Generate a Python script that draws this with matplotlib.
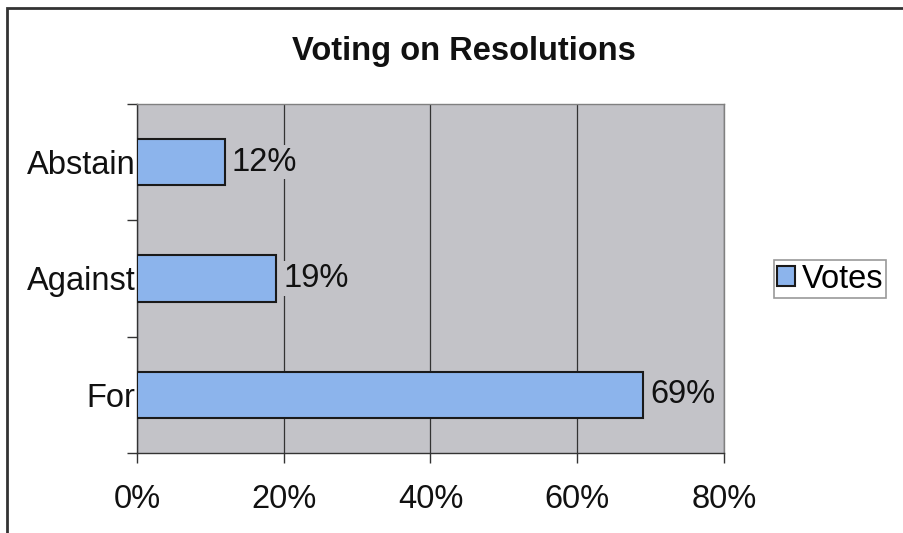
import matplotlib
matplotlib.use("Agg")
import matplotlib.pyplot as plt
from matplotlib.patches import Rectangle
from matplotlib.ticker import FixedLocator

plt.rcParams['font.family'] = ['Liberation Sans', 'DejaVu Sans']

categories = ["For", "Against", "Abstain"]
values = [69, 19, 12]
value_labels = ["69%", "19%", "12%"]
xticks = [0, 20, 40, 60, 80]
xtick_labels = ["0%", "20%", "40%", "60%", "80%"]
series_name = "Votes"

FS = 23.5

fig = plt.figure(figsize=(9.04, 5.33), dpi=100)
ax = fig.add_axes([0.1515, 0.1501, 0.6494, 0.6548])
ax.set_facecolor('#c3c3c8')

ypos = list(range(len(categories)))
bars = ax.barh(ypos, values, height=0.4, color='#8cb4ec', edgecolor='#1a1a1a',
               linewidth=1.5, label=series_name, zorder=3)
for y, v, lab in zip(ypos, values, value_labels):
    ax.annotate(lab, (v, y), xytext=(5, 0), textcoords='offset points',
                va='center', ha='left', fontsize=FS, color='#111111',
                bbox=dict(boxstyle='square,pad=0.05', fc='#c3c3c8', ec='none'), zorder=4)

ax.set_xlim(0, 80)
ax.set_ylim(-0.5, len(categories) - 0.5)
ax.set_xticks(xticks)
ax.set_xticklabels(xtick_labels, fontsize=FS, color='#111111')
ax.set_yticks(ypos)
ax.set_yticklabels(categories, fontsize=FS, color='#111111')
ax.yaxis.set_minor_locator(FixedLocator([-0.5, 0.5, 1.5, 2.5]))
ax.tick_params(axis='y', which='major', length=0, pad=1)
ax.tick_params(axis='y', which='minor', length=7, width=1, color='#333333', direction='out')
ax.tick_params(axis='x', which='major', length=7, width=1, color='#333333', pad=15)

ax.grid(axis='x', color='#333333', linewidth=0.9, zorder=1)
for s in ['top', 'right']:
    ax.spines[s].set_color('#808080')
    ax.spines[s].set_linewidth(1)
for s in ['left', 'bottom']:
    ax.spines[s].set_color('#333333')
    ax.spines[s].set_linewidth(1)

fig.text(0.513, 0.904, "Voting on Resolutions", ha='center', va='center',
         fontsize=FS, fontweight='bold', color='#111111')

leg = fig.legend(handles=[bars], labels=[series_name], loc='center left',
                 bbox_to_anchor=(0.856, 0.4765), fontsize=FS, frameon=True,
                 fancybox=False, edgecolor='#808080', handlelength=0.55,
                 handleheight=0.55, handletextpad=0.2, borderpad=0.1,
                 borderaxespad=0)
leg.get_frame().set_linewidth(1.2)

fig.patches.append(Rectangle((0.008, -0.05), 1.2, 1.035, transform=fig.transFigure,
                             fill=False, edgecolor='#333333', linewidth=2))

fig.savefig("out.png", dpi=100, facecolor='white')
